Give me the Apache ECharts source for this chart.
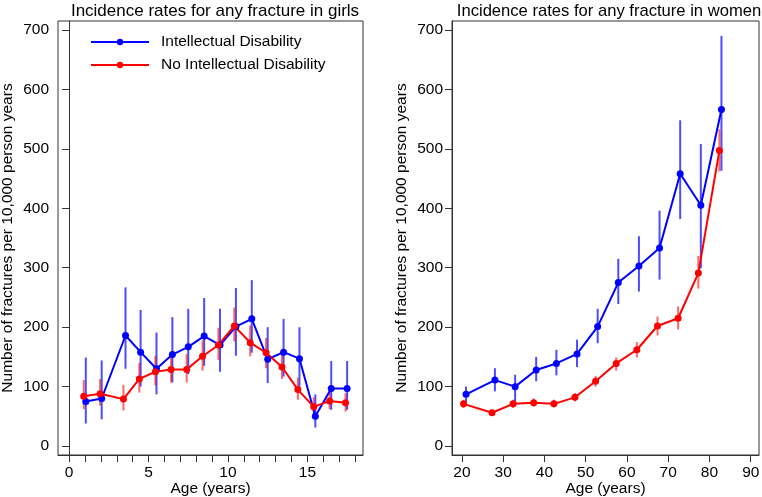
<!DOCTYPE html>
<html>
<head>
<meta charset="utf-8">
<script src="https://cdn.jsdelivr.net/npm/echarts@6/dist/echarts.min.js"></script>
<style>html,body{margin:0;padding:0;background:#fff}#c{width:762px;height:497px}</style>
</head>
<body>
<div id="c"></div>
<script>
// Girls (left panel)
var girlsAgeID = [1.05, 2.05, 3.55, 4.5, 5.5, 6.5, 7.5, 8.5, 9.5, 10.5, 11.5, 12.5, 13.5, 14.5, 15.5, 16.5, 17.5];
var girlsID = [75, 80, 186, 158, 130, 154, 167, 185, 170, 201, 214, 146, 158, 147, 50, 97, 97];
var girlsIDLow = [38, 45, 130, 100, 87, 107, 121, 135, 125, 152, 157, 106, 117, 100, 31, 61, 61];
var girlsIDHigh = [149, 144, 267, 229, 191, 217, 231, 249, 231, 266, 279, 200, 214, 200, 87, 143, 143];

var girlsAgeNoID = [0.92, 1.95, 3.42, 4.42, 5.43, 6.42, 7.4, 8.4, 9.4, 10.4, 11.4, 12.4, 13.4, 14.4, 15.4, 16.4, 17.4];
var girlsNoID = [84, 88, 79, 113, 125, 129, 129, 151, 170, 202, 174, 157, 133, 95, 66, 76, 73];
var girlsNoIDLow = [62, 68, 60, 90, 102, 107, 107, 127, 145, 176, 151, 131, 113, 78, 50, 62, 58];
var girlsNoIDHigh = [111, 113, 103, 140, 152, 153, 155, 178, 199, 233, 203, 182, 155, 115, 82, 92, 89];

// Women (right panel)
var womenAgeID = [21, 28, 32.9, 38, 42.9, 47.9, 52.9, 57.9, 62.9, 67.9, 72.9, 77.9, 82.9];
var womenID = [87, 111, 100, 128, 139, 155, 201, 275, 303, 333, 458, 405, 566];
var womenIDLow = [74, 92, 67, 109, 119, 133, 173, 239, 260, 280, 382, 299, 463];
var womenIDHigh = [100, 131, 120, 150, 162, 179, 231, 315, 353, 396, 548, 508, 690];

var womenAgeNoID = [20.4, 27.3, 32.4, 37.4, 42.3, 47.4, 52.4, 57.4, 62.4, 67.4, 72.4, 77.3, 82.4];
var womenNoID = [71, 56, 71, 73, 71, 82, 109, 139, 162, 202, 215, 291, 497];
var womenNoIDLow = [64, 51, 64, 66, 65, 75, 100, 127, 149, 186, 196, 265, 462];
var womenNoIDHigh = [78, 61, 78, 80, 78, 89, 118, 149, 175, 218, 235, 320, 533];

// Tick labels
var yTicks = [0, 100, 200, 300, 400, 500, 600, 700];
var girlsXLabels = [0, 5, 10, 15];
var girlsXTicks = [0,1,2,3,4,5,6,7,8,9,10,11,12,13,14,15,16,17,18];
var womenXTicks = [20, 30, 40, 50, 60, 70, 80, 90];

var titles = ['Incidence rates for any fracture in girls', 'Incidence rates for any fracture in women'];
var names = ['Intellectual Disability', 'No Intellectual Disability'];
var yName = 'Number of fractures per 10,000 person years';
var xName = 'Age (years)';

var FONT = 'Liberation Sans, Arial, Helvetica, sans-serif';
var BLUE = '#0000ff', RED = '#ff0000';

function zip(xs, ys) { return xs.map(function (x, i) { return [x, ys[i]]; }); }
function zip3(xs, lo, hi) { return xs.map(function (x, i) { return [x, lo[i], hi[i]]; }); }

function errSeries(idx, data, color) {
  return {
    type: 'custom', xAxisIndex: idx, yAxisIndex: idx, data: data, z: 2,
    encode: { x: 0, y: [1, 2] },
    clip: true,
    renderItem: function (params, api) {
      var x = api.value(0);
      var p1 = api.coord([x, api.value(1)]);
      var p2 = api.coord([x, api.value(2)]);
      return { type: 'line', shape: { x1: p1[0], y1: p1[1], x2: p2[0], y2: p2[1] },
        style: { stroke: color, lineWidth: 2 } };
    }
  };
}
function lineSeries(idx, name, data, color) {
  return {
    type: 'line', name: name, xAxisIndex: idx, yAxisIndex: idx, data: data, z: 3,
    symbol: 'circle', symbolSize: 7, showSymbol: true,
    lineStyle: { color: color, width: 2 }, itemStyle: { color: color },
    animation: false
  };
}
function yAxis(idx) {
  return {
    type: 'value', gridIndex: idx, min: -15, max: 715,
    name: yName, nameLocation: 'middle', nameGap: 42, nameMoveOverlap: false,
    nameTextStyle: { fontFamily: FONT, fontSize: 15.5, color: '#000' },
    axisLine: { show: true, lineStyle: { color: '#333', width: 1 } },
    axisTick: { show: true, length: 7, customValues: yTicks, lineStyle: { color: '#333' } },
    axisLabel: { customValues: yTicks, margin: 9, fontFamily: FONT, fontSize: 15.5, color: '#000' },
    splitLine: { show: false }
  };
}
function xAxis(idx, min, max, labels, ticks) {
  return {
    type: 'value', gridIndex: idx, min: min, max: max,
    name: xName, nameLocation: 'middle', nameGap: 26, nameMoveOverlap: false,
    nameTextStyle: { fontFamily: FONT, fontSize: 15.5, color: '#000' },
    axisLine: { show: true, onZero: false, lineStyle: { color: '#333', width: 1 } },
    axisTick: { show: true, length: 7, customValues: ticks, lineStyle: { color: '#333' } },
    axisLabel: { customValues: labels, margin: 10, fontFamily: FONT, fontSize: 15.5, color: '#000' },
    splitLine: { show: false }
  };
}

var chart = echarts.init(document.getElementById('c'), null, { renderer: 'canvas' });
chart.setOption({
  animation: false,
  backgroundColor: '#fff',
  title: [
    { text: titles[0], left: 210, top: -2, textAlign: 'center',
      textStyle: { fontFamily: FONT, fontSize: 17, fontWeight: 'normal', color: '#000' } },
    { text: titles[1], left: 604, top: -2, textAlign: 'center',
      textStyle: { fontFamily: FONT, fontSize: 16.6, fontWeight: 'normal', color: '#000' } }
  ],
  legend: {
    data: names, orient: 'vertical', left: 85, top: 29, itemWidth: 58, itemHeight: 8, itemGap: 7,
    textStyle: { fontFamily: FONT, fontSize: 15.5, color: '#000', padding: [0, 0, 0, 7] },
    selectedMode: false
  },
  grid: [
    { left: 58, top: 21, width: 305, height: 434, show: true, borderColor: '#333', borderWidth: 1,
      containLabel: false, outerBoundsMode: 'none' },
    { left: 452, top: 21, width: 307, height: 434, show: true, borderColor: '#333', borderWidth: 1,
      containLabel: false, outerBoundsMode: 'none' }
  ],
  xAxis: [
    xAxis(0, -0.7, 18.5, girlsXLabels, girlsXTicks),
    xAxis(1, 17.6, 92, womenXTicks, womenXTicks)
  ],
  yAxis: [yAxis(0), yAxis(1)],
  series: [
    errSeries(0, zip3(girlsAgeID, girlsIDLow, girlsIDHigh), 'rgba(0,0,255,0.7)'),
    errSeries(0, zip3(girlsAgeNoID, girlsNoIDLow, girlsNoIDHigh), 'rgba(255,0,0,0.6)'),
    lineSeries(0, names[0], zip(girlsAgeID, girlsID), BLUE),
    lineSeries(0, names[1], zip(girlsAgeNoID, girlsNoID), RED),
    errSeries(1, zip3(womenAgeID, womenIDLow, womenIDHigh), 'rgba(0,0,255,0.7)'),
    errSeries(1, zip3(womenAgeNoID, womenNoIDLow, womenNoIDHigh), 'rgba(255,0,0,0.6)'),
    lineSeries(1, names[0], zip(womenAgeID, womenID), BLUE),
    lineSeries(1, names[1], zip(womenAgeNoID, womenNoID), RED)
  ]
});
</script>
</body>
</html>
